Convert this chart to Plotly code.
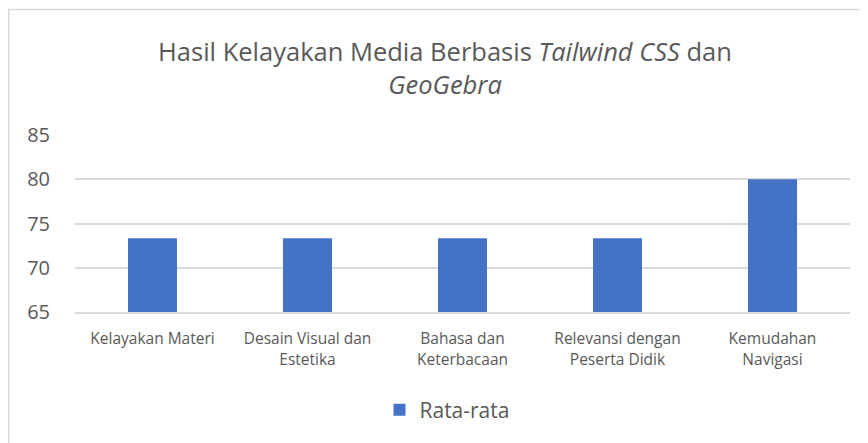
import plotly.graph_objects as go

categories = ["Kelayakan Materi", "Desain Visual dan<br>Estetika", "Bahasa dan<br>Keterbacaan",
              "Relevansi dengan<br>Peserta Didik", "Kemudahan<br>Navigasi"]
values = [73.33, 73.33, 73.33, 73.33, 80]
series_name = "Rata-rata"
y_ticks = [65, 70, 75, 80, 85]

OFF = 8  # page body margin
W, H = 868, 443
ML, MR, MT, MB = 75 - OFF, 18 + OFF, 135 - OFF, 131 + OFF
pw, ph = W - ML - MR, H - MT - MB

def px_x(x):
    return (x - OFF - ML) / pw

def px_y(y):
    return (H - MB - (y - OFF)) / ph

font = "Open Sans, Noto Sans, sans-serif"
txt = "#595959"

fig = go.Figure(go.Bar(x=categories, y=values, name=series_name, marker_color="#4472C4",
                       marker_line_width=0, showlegend=True))

fig.update_layout(
    width=W, height=H,
    margin=dict(l=ML, r=MR, t=MT, b=MB),
    paper_bgcolor="white", plot_bgcolor="white",
    bargap=0.684,
    title=dict(text="Hasil Kelayakan Media Berbasis <i>Tailwind CSS</i> dan<br><i>GeoGebra</i>",
               x=px_x(445), xanchor="center", xref="paper", yref="container",
               y=(H - (61 - OFF)) / H, yanchor="middle",
               font=dict(family=font, size=25.5, color=txt)),
    font=dict(family=font, color=txt),
    legend=dict(orientation="h", x=px_x(447), xanchor="center", xref="paper",
                y=px_y(410), yanchor="middle", yref="paper",
                font=dict(size=21, color=txt), itemwidth=30),
    shapes=[dict(type="rect", xref="paper", yref="paper",
                 x0=px_x(8.8), x1=px_x(900), y0=px_y(500), y1=px_y(9.5),
                 line=dict(color="#d9d9d9", width=1.5), fillcolor="rgba(0,0,0,0)", layer="below")],
)
fig.update_xaxes(showline=True, linecolor="#d9d9d9", linewidth=1.5, ticks="",
                 ticklabelstandoff=12, tickfont=dict(size=15.5, color=txt))
fig.update_yaxes(range=[65, 85], tickvals=y_ticks, showgrid=True, gridcolor="#d9d9d9",
                 gridwidth=1.5, zeroline=False, ticks="outside", ticklen=20, tickcolor="rgba(0,0,0,0)",
                 tickfont=dict(size=20, color=txt))

fig.write_html("out.html")
